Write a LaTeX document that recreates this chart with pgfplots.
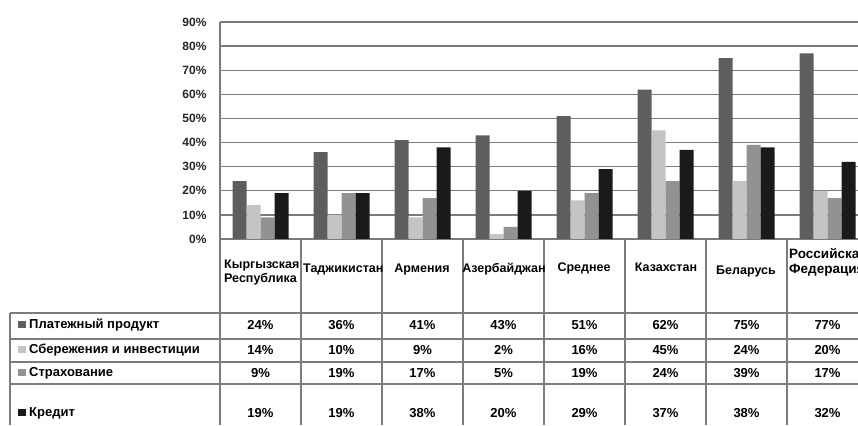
\documentclass[border=0pt]{standalone}
\usepackage{fontspec}
\setmainfont{Liberation Sans}
\usepackage{pgfplots}
\pgfplotsset{compat=1.18}

\definecolor{cPay}{HTML}{5E5E5E}
\definecolor{cSav}{HTML}{C4C4C4}
\definecolor{cIns}{HTML}{929292}
\definecolor{cCred}{HTML}{1A1A1A}
\definecolor{cLine}{HTML}{7C7C7C}

\newcommand\tkf{\fontsize{12}{14}\selectfont\bfseries}
\newcommand\tf{\fontsize{13}{15}\selectfont\bfseries}
\newcommand\cf{\fontsize{12.5}{14}\selectfont\bfseries}

\begin{document}
\begin{tikzpicture}
\useasboundingbox (0pt,0pt) rectangle (858pt,425pt);
\clip (0pt,0pt) rectangle (858pt,425pt);
\begin{axis}[
  at={(220pt,186pt)}, anchor=origin,
  scale only axis, width=648pt, height=217pt,
  xmin=0, xmax=8, ymin=0, ymax=90,
  ybar=0pt, bar width=14pt,
  axis x line=none,
  axis y line=left,
  axis line style={-, cLine, line width=1.4pt},
  ytick={0,10,...,90},
  major tick length=0pt,
  yticklabel={\pgfmathprintnumber[assume math mode=true]{\tick}\%},
  yticklabel style={font=\tkf, xshift=-10pt, text=black!85},
  ymajorgrids,
  grid style={cLine, line width=1.4pt},
  xtick=\empty,
]
% Платежный продукт
\addplot[fill=cPay, draw=none] coordinates {(0.5,24) (1.5,36) (2.5,41) (3.5,43) (4.5,51) (5.5,62) (6.5,75) (7.5,77)};
% Сбережения и инвестиции
\addplot[fill=cSav, draw=none] coordinates {(0.5,14) (1.5,10) (2.5,9) (3.5,2) (4.5,16) (5.5,45) (6.5,24) (7.5,20)};
% Страхование
\addplot[fill=cIns, draw=none] coordinates {(0.5,9) (1.5,19) (2.5,17) (3.5,5) (4.5,19) (5.5,24) (6.5,39) (7.5,17)};
% Кредит
\addplot[fill=cCred, draw=none] coordinates {(0.5,19) (1.5,19) (2.5,38) (3.5,20) (4.5,29) (5.5,37) (6.5,38) (7.5,32)};
\end{axis}

\begin{scope}[x=1pt, y=1pt]
% data table under the plot
\begin{scope}[cLine, line width=1.4pt]
  \foreach \k in {0,...,8} {\draw (220+81*\k,186) -- (220+81*\k,0);}
  \draw (10,112) -- (858,112);
  \draw (10,86) -- (858,86);
  \draw (10,63) -- (858,63);
  \draw (10,41) -- (858,41);
  \draw (10,112) -- (10,0);
\end{scope}

% category names
\node[font=\cf, align=left, anchor=west, inner sep=0pt] at (224,153) {Кыргызская\\Республика};
\node[font=\cf, anchor=west, inner sep=0pt] at (303,156) {Таджикистан};
\node[font=\cf] at (422,156) {Армения};
\node[font=\cf] at (504,156) {Азербайджан};
\node[font=\cf] at (584,157) {Среднее};
\node[font=\cf] at (666,158) {Казахстан};
\node[font=\cf] at (746,154) {Беларусь};
\node[font=\fontsize{13.5}{15}\selectfont\bfseries, align=left, anchor=west, inner sep=0pt] at (789,163) {Российская\\Федерация};

% row headers with colour keys
\foreach \yy/\col/\txt in {100/cPay/Платежный продукт, 75/cSav/Сбережения и инвестиции, 52/cIns/Страхование, 12/cCred/Кредит}{
  \fill[\col] (18,\yy-3.5) rectangle +(7.5,7.5);
  \node[font=\tf, anchor=west, inner sep=0pt] at (29,\yy) {\txt};
}

% values
\foreach \v [count=\i from 0] in {24,36,41,43,51,62,75,77}
  \node[font=\tf] at (260.5+81*\i,100) {\v\%};
\foreach \v [count=\i from 0] in {14,10,9,2,16,45,24,20}
  \node[font=\tf] at (260.5+81*\i,75) {\v\%};
\foreach \v [count=\i from 0] in {9,19,17,5,19,24,39,17}
  \node[font=\tf] at (260.5+81*\i,52) {\v\%};
\foreach \v [count=\i from 0] in {19,19,38,20,29,37,38,32}
  \node[font=\tf] at (260.5+81*\i,12) {\v\%};
\end{scope}
\end{tikzpicture}
\end{document}
